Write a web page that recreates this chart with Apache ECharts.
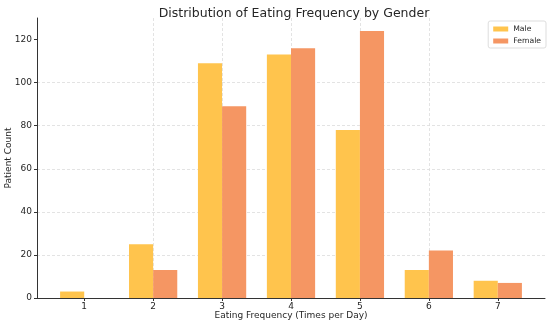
<!DOCTYPE html>
<html><head><meta charset="utf-8">
<script src="https://cdn.jsdelivr.net/npm/echarts@6/dist/echarts.min.js"></script>
<style>html,body{margin:0;padding:0;background:#fff}#c{width:550px;height:324px}</style>
</head><body><div id="c"></div>
<script>
const categories = [1, 2, 3, 4, 5, 6, 7];
const maleCounts = [3, 25, 109, 113, 78, 13, 8];
const femaleCounts = [0, 13, 89, 116, 124, 22, 7];
const yTicks = [0, 20, 40, 60, 80, 100, 120];

const chart = echarts.init(document.getElementById('c'), null, {renderer: 'canvas'});
const font = 'DejaVu Sans';
const textColor = '#262626';
const gridLine = {show: true, showMinLine: false, showMaxLine: false, lineStyle: {color: '#dcdcdc', type: [3, 2], width: 0.8}};
chart.setOption({
  animation: false,
  textStyle: {fontFamily: font},
  title: {text: 'Distribution of Eating Frequency by Gender', left: 289, textAlign: 'center', top: 2,
    textStyle: {fontFamily: font, fontSize: 12.5, fontWeight: 'normal', color: textColor}},
  legend: {right: 4, top: 21, orient: 'vertical', itemWidth: 15, itemHeight: 5, itemGap: 4,
    padding: [4, 5, 3, 5], borderColor: '#ddd', borderWidth: 1, borderRadius: 2, backgroundColor: '#fff',
    textStyle: {fontFamily: font, fontSize: 7.7, color: textColor}, icon: 'rect', data: ['Male', 'Female']},
  grid: {left: 37, right: 5, top: 18, bottom: 26, containLabel: false, outerBoundsMode: 'none'},
  xAxis: {type: 'value', min: 0.315, max: 7.685, minInterval: 1, maxInterval: 1,
    name: 'Eating Frequency (Times per Day)', nameLocation: 'middle', nameGap: 13.5, nameMoveOverlap: false,
    nameTextStyle: {fontFamily: font, fontSize: 9, color: textColor},
    axisLine: {show: true, lineStyle: {color: '#333', width: 1}},
    axisTick: {show: true, length: 3, customValues: categories, lineStyle: {color: '#333'}},
    axisLabel: {fontFamily: font, fontSize: 9, color: textColor, margin: 4, customValues: categories},
    splitLine: gridLine},
  yAxis: {type: 'value', min: 0, max: 130, interval: 20,
    name: 'Patient Count', nameLocation: 'middle', nameGap: 23.5, nameMoveOverlap: false,
    nameTextStyle: {fontFamily: font, fontSize: 9, color: textColor},
    axisLine: {show: true, lineStyle: {color: '#333', width: 1}},
    axisTick: {show: true, length: 3, customValues: yTicks, lineStyle: {color: '#333'}},
    axisLabel: {fontFamily: font, fontSize: 9, color: textColor, margin: 5, customValues: yTicks},
    splitLine: gridLine},
  series: [
    {name: 'Male', type: 'bar', data: categories.map((c, i) => [c, maleCounts[i]]),
      barWidth: '35%', barGap: '0%', itemStyle: {color: '#FFC44D'}},
    {name: 'Female', type: 'bar', data: categories.map((c, i) => [c, femaleCounts[i]]),
      barWidth: '35%', barGap: '0%', itemStyle: {color: '#F59663'}}
  ]
});
</script></body></html>
